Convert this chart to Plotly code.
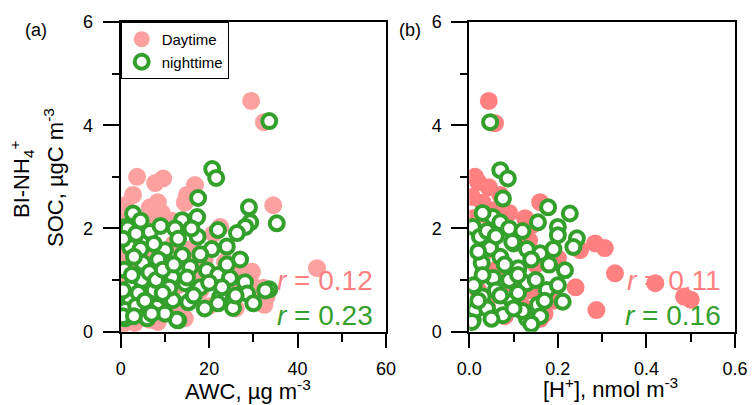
import plotly.graph_objects as go

# ---------------- data ----------------
# Panel (a): AWC vs SOC
awc_day = [3.7, 9.6, 7.8, 16.8, 2.8, 15.0, 8.4, 6.6, 9.3, 1.0, 14.5, 29.5, 32.4, 34.5, 44.4,
           22.5, 23.6, 28.0, 29.7, 32.0, 31.0, 33.0, 24.3, 27.7, 29.3, 13.0, 14.5, 6.6, 8.4, 3.2,
           0.3, 32.3, 32.5, 4.5, 11.5, 5.5, 12.0, 2.0, 7.0, 16.0, 19.0, 3.0, 10.0, 13.0, 18.0,
           5.0, 9.0, 20.0, 1.5, 25.0, 21.0, 4.0, 11.0, 17.0, 26.0, 7.5, 1.8, 0.5, 0.8]
soc_day_a = [3.00, 2.97, 2.88, 2.84, 2.65, 2.65, 2.51, 2.41, 2.30, 2.45, 2.50, 4.47, 4.06, 2.45, 1.23,
             2.03, 1.35, 1.16, 1.16, 0.77, 0.57, 0.67, 1.25, 1.13, 0.95, 0.36, 0.26, 0.23, 0.19, 0.17,
             0.13, 0.85, 0.52, 2.10, 2.15, 1.90, 1.70, 1.80, 1.50, 1.60, 1.40, 1.20, 1.10, 0.90, 0.80,
             0.70, 0.60, 0.50, 0.90, 0.90, 1.90, 0.45, 0.40, 1.10, 0.45, 2.10, 2.20, 1.50, 0.60]

awc_night = [33.6, 20.7, 21.6, 17.5, 29.0, 2.8, 35.3, 29.3, 28.2, 13.9, 17.3, 12.3, 1.0, 6.0, 6.6,
             17.4, 22.0, 26.3, 24.0, 20.6, 10.0, 2.1, 5.0, 10.7, 13.9, 15.7, 19.5, 22.0, 24.7, 28.1,
             33.6, 11.6, 9.0, 4.8, 2.1, 14.6, 18.0, 28.6, 22.5, 25.4, 15.3, 11.8, 8.2, 6.0, 2.1,
             1.0, 13.0, 6.0, 1.6, 22.9, 22.0, 12.7, 1.0, 32.7,
             0.5, 3.5, 4.5, 7.5, 8.5, 3.0, 0.8, 2.5, 6.5, 7.5, 4.0, 0.5, 3.5, 8.0, 9.5, 12.0, 11.0,
             16.5, 19.0, 18.0, 16.0, 13.0, 9.0, 4.5, 0.5, 3.0, 10.0, 15.0, 20.0, 24.0, 26.0, 30.0,
             27.0, 5.5, 7.0, 9.5]
soc_night_a = [4.08, 3.15, 2.98, 2.59, 2.41, 2.29, 2.10, 2.12, 2.03, 2.16, 2.22, 2.00, 2.03, 1.79, 1.93,
               1.84, 1.97, 1.91, 1.65, 1.60, 1.58, 1.64, 1.33, 1.33, 1.48, 1.25, 1.19, 1.10, 1.04, 0.96,
               0.82, 1.06, 0.96, 1.00, 0.85, 0.94, 0.86, 0.74, 0.67, 0.46, 0.57, 0.61, 0.48, 0.42, 0.61,
               0.42, 0.22, 0.26, 2.00, 0.86, 0.55, 0.23, 0.26, 0.80,
               1.80, 1.90, 1.60, 1.70, 1.40, 1.45, 1.20, 1.10, 1.15, 0.80, 0.75, 0.80, 0.50, 1.00, 1.20,
               1.30, 0.85, 0.70, 0.45, 1.50, 2.00, 1.80, 2.05, 2.15, 0.30, 0.30, 0.35, 1.05, 0.95, 1.30,
               0.70, 0.55, 1.40, 0.60, 0.35, 0.75]

# Panel (b): [H+] vs SOC
hplus_day = [0.044, 0.058, 0.284, 0.306, 0.329, 0.420, 0.485, 0.500, 0.287, 0.160, 0.126, 0.135,
             0.200, 0.240, 0.250, 0.142, 0.013, 0.006, 0.044, 0.058, 0.020, 0.030, 0.070, 0.010,
             0.090, 0.050, 0.030, 0.060, 0.100, 0.120, 0.150, 0.080, 0.170, 0.020, 0.110, 0.040,
             0.140, 0.190, 0.160]
soc_day_b = [4.47, 4.04, 1.71, 1.62, 1.13, 0.94, 0.68, 0.62, 0.42, 2.51, 2.20, 1.77,
             1.42, 0.86, 1.58, 2.07, 3.00, 2.61, 2.80, 2.36, 2.90, 2.50, 2.65, 2.20,
             2.30, 2.10, 1.50, 1.20, 0.90, 0.50, 1.30, 0.30, 0.35, 0.80, 1.90, 0.50,
             0.80, 0.60, 0.25]

hplus_night = [0.047, 0.070, 0.087, 0.076, 0.178, 0.227, 0.155, 0.200, 0.200, 0.243, 0.235, 0.008,
               0.053, 0.070, 0.024, 0.047, 0.100, 0.160, 0.070, 0.028, 0.111, 0.216, 0.054, 0.130,
               0.175, 0.030, 0.097, 0.155, 0.211, 0.076, 0.130, 0.008, 0.097, 0.013, 0.006,
               0.020, 0.040, 0.090, 0.120, 0.130, 0.080, 0.140, 0.180, 0.030, 0.090, 0.150, 0.010,
               0.060, 0.110, 0.200, 0.040, 0.120, 0.170, 0.030, 0.060, 0.110, 0.160, 0.190, 0.100,
               0.050, 0.020, 0.140, 0.070]
soc_night_b = [4.06, 3.13, 2.97, 2.58, 2.41, 2.29, 2.12, 2.03, 1.87, 1.81, 1.64, 2.03,
               2.22, 2.12, 1.84, 1.62, 1.71, 1.52, 1.45, 1.33, 1.23, 1.19, 1.04, 0.94,
               0.81, 0.68, 0.58, 0.52, 0.58, 0.32, 0.26, 0.23, 1.74, 0.42, 0.19,
               1.55, 1.95, 2.00, 1.95, 1.60, 1.30, 1.40, 1.30, 1.10, 1.00, 1.00, 0.90,
               0.80, 0.75, 0.90, 0.45, 0.40, 0.60, 2.30, 1.85, 1.10, 0.30, 1.60, 0.45,
               0.25, 0.60, 0.15, 0.70]

r_text = {"a": ("0.12", "0.23"), "b": ("0.11", "0.16")}

# ---------------- styles ----------------
FONT = "Arial, Liberation Sans, sans-serif"
PINK_A = "rgb(252,160,160)"
PINK_B = "rgb(255,128,128)"
PINK_TXT = "rgb(255,128,128)"
GREEN = "rgb(51,160,44)"

fig = go.Figure()

day_marker_a = dict(size=18, color=PINK_A, line=dict(width=0))
day_marker_b = dict(size=18, color=PINK_B, line=dict(width=0))
night_marker = dict(size=14, color="white", line=dict(width=4, color=GREEN))

fig.add_trace(go.Scatter(x=awc_day, y=soc_day_a, mode="markers", marker=day_marker_a,
                         name="Daytime", xaxis="x", yaxis="y", legendgroup="d"))
fig.add_trace(go.Scatter(x=awc_night, y=soc_night_a, mode="markers", marker=night_marker,
                         name="nighttime", xaxis="x", yaxis="y", legendgroup="n"))
fig.add_trace(go.Scatter(x=hplus_day, y=soc_day_b, mode="markers", marker=day_marker_b,
                         name="Daytime", xaxis="x2", yaxis="y2", showlegend=False))
fig.add_trace(go.Scatter(x=hplus_night, y=soc_night_b, mode="markers", marker=night_marker,
                         name="nighttime", xaxis="x2", yaxis="y2", showlegend=False))

W, H = 752, 405
def px(x):
    return x / W
def py(y):
    return 1 - y / H

ydom = [py(331.7), py(22)]
common_axis = dict(showline=True, linewidth=2, linecolor="black", mirror=True,
                   showgrid=False, zeroline=False, ticks="outside", tickwidth=2,
                   tickcolor="black", automargin=False,
                   tickfont=dict(family=FONT, size=18, color="black"))

fig.update_layout(
    xaxis=dict(domain=[px(120.7), px(386)], range=[0, 60], tickvals=[0, 20, 40, 60],
               ticklen=14, anchor="y", ticklabelstandoff=6,
               minor=dict(tickvals=[10, 30, 50], ticklen=8, tickwidth=2, ticks="outside", tickcolor="black"),
               **common_axis),
    yaxis=dict(domain=ydom, range=[0, 6], tickvals=[0, 2, 4, 6], ticklen=16, anchor="x",
               ticklabelstandoff=6,
               minor=dict(tickvals=[1, 3, 5], ticklen=7, tickwidth=2, ticks="outside", tickcolor="black"),
               **common_axis),
    xaxis2=dict(domain=[px(469.3), px(735)], range=[0, 0.6], tickvals=[0, 0.2, 0.4, 0.6],
                ticktext=["0.0", "0.2", "0.4", "0.6"], ticklen=14, anchor="y2", ticklabelstandoff=6,
                minor=dict(tickvals=[0.1, 0.3, 0.5], ticklen=8, tickwidth=2, ticks="outside", tickcolor="black"),
                **common_axis),
    yaxis2=dict(domain=ydom, range=[0, 6], tickvals=[0, 2, 4, 6], ticklen=16, anchor="x2",
                ticklabelstandoff=6,
                minor=dict(tickvals=[1, 3, 5], ticklen=7, tickwidth=2, ticks="outside", tickcolor="black"),
                **common_axis),
    width=W, height=H,
    margin=dict(l=0, r=0, t=0, b=0, autoexpand=False),
    plot_bgcolor="white", paper_bgcolor="white",
    font=dict(family=FONT, color="black"),
    legend=dict(x=px(120.7), y=py(22), xanchor="left", yanchor="top",
                bgcolor="white", bordercolor="black", borderwidth=1,
                font=dict(family=FONT, size=15, color="black"),
                tracegroupgap=0, itemsizing="trace"),
    showlegend=True,
)

ann = []
# y-axis title (two lines)
ann.append(dict(text="BI-NH<sub>4</sub><sup>+</sup>", x=px(21), y=py(180), xref="paper", yref="paper",
                textangle=-90, showarrow=False, font=dict(family=FONT, size=22, color="black"),
                xanchor="center", yanchor="middle"))
ann.append(dict(text="SOC, \u00b5gC m<sup>-3</sup>", x=px(54), y=py(178), xref="paper", yref="paper",
                textangle=-90, showarrow=False, font=dict(family=FONT, size=22, color="black"),
                xanchor="center", yanchor="middle"))
# x-axis titles
ann.append(dict(text="AWC, \u00b5g m<sup>-3</sup>", x=px(248), y=py(390), xref="paper", yref="paper",
                showarrow=False, font=dict(family=FONT, size=22, color="black"),
                xanchor="center", yanchor="middle"))
ann.append(dict(text="[H<sup>+</sup>], nmol m<sup>-3</sup>", x=px(610), y=py(388), xref="paper", yref="paper",
                showarrow=False, font=dict(family=FONT, size=22, color="black"),
                xanchor="center", yanchor="middle"))
# panel labels
ann.append(dict(text="(a)", x=px(36), y=py(30), xref="paper", yref="paper", showarrow=False,
                font=dict(family=FONT, size=18, color="black"), xanchor="center", yanchor="middle"))
ann.append(dict(text="(b)", x=px(410), y=py(30), xref="paper", yref="paper", showarrow=False,
                font=dict(family=FONT, size=18, color="black"), xanchor="center", yanchor="middle"))
# r values
for key, xr in (("a", 375), ("b", 723)):
    rd, rn = r_text[key]
    ann.append(dict(text="<i>r</i> = " + rd, x=px(xr), y=py(280), xref="paper", yref="paper",
                    showarrow=False, font=dict(family=FONT, size=28, color=PINK_TXT),
                    xanchor="right", yanchor="middle"))
    ann.append(dict(text="<i>r</i> = " + rn, x=px(xr), y=py(315), xref="paper", yref="paper",
                    showarrow=False, font=dict(family=FONT, size=28, color=GREEN),
                    xanchor="right", yanchor="middle"))
fig.update_layout(annotations=ann)

fig.write_html("out.html", config={"displayModeBar": False},
               post_script="document.body.style.margin='0';document.body.style.overflow='hidden';")
